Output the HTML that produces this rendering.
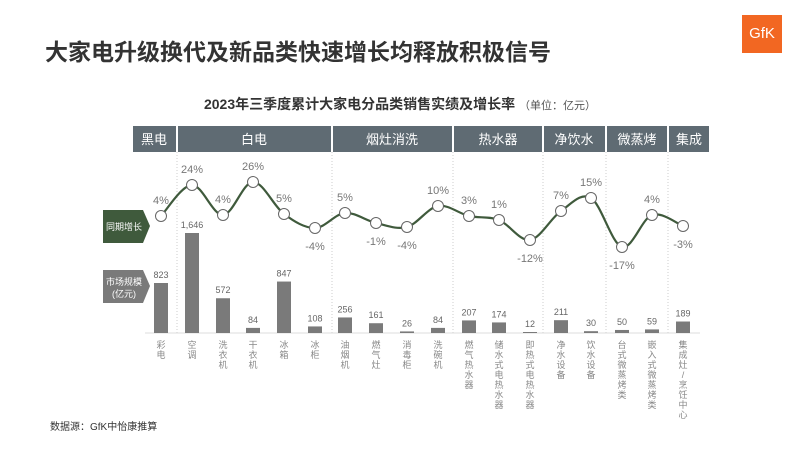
<!DOCTYPE html>
<html><head><meta charset="utf-8"><style>
body{margin:0;background:#fff;}
#w{position:relative;width:800px;height:450px;overflow:hidden;font-family:"Liberation Sans","Noto Sans CJK SC",sans-serif;}
.t{position:absolute;left:45px;top:33px;font-size:23px;font-weight:bold;color:#333;}
.st{position:absolute;left:0;width:800px;top:94px;text-align:center;font-size:14px;font-weight:bold;color:#333;}
.st span{font-size:11px;font-weight:normal;color:#555;}
.logo{position:absolute;left:742px;top:15px;width:40px;height:38px;background:#f26722;color:#fff;font-size:15px;line-height:38px;text-align:center;}
.src{position:absolute;left:50px;top:418px;font-size:10px;color:#333;}
</style></head><body><div id="w">
<div class="t">大家电升级换代及新品类快速增长均释放积极信号</div>
<div class="logo">GfK</div>
<div class="st">2023年三季度累计大家电分品类销售实绩及增长率 <span>（单位：亿元）</span></div>
<svg width="800" height="450" style="position:absolute;left:0;top:0" font-family="Liberation Sans, Noto Sans CJK SC, sans-serif">
<g fill="#5f6b73">
<rect x="133" y="126" width="43" height="26"/><rect x="178" y="126" width="153" height="26"/>
<rect x="333" y="126" width="119" height="26"/><rect x="454" y="126" width="88" height="26"/>
<rect x="544" y="126" width="61" height="26"/><rect x="607" y="126" width="60" height="26"/>
<rect x="669" y="126" width="40" height="26"/></g>
<g fill="#fff" font-size="13" text-anchor="middle">
<text x="154" y="144">黑电</text><text x="254" y="144">白电</text><text x="392" y="144">烟灶消洗</text>
<text x="498" y="144">热水器</text><text x="574" y="144">净饮水</text><text x="637" y="144">微蒸烤</text><text x="689" y="144">集成</text></g>
<g stroke="#ccc" stroke-dasharray="1,2" stroke-width="1">
<line x1="177" y1="152" x2="177" y2="333"/><line x1="332" y1="152" x2="332" y2="333"/>
<line x1="453" y1="152" x2="453" y2="333"/><line x1="543" y1="152" x2="543" y2="333"/>
<line x1="606" y1="152" x2="606" y2="333"/><line x1="668" y1="152" x2="668" y2="333"/></g>
<line x1="145" y1="333" x2="700" y2="333" stroke="#ddd"/>
<polygon points="103,210 143,210 150,226 143,243 103,243" fill="#3f5a3c"/>
<text x="124" y="230" fill="#fff" font-size="9" text-anchor="middle">同期增长</text>
<polygon points="103,270 143,270 150,286 143,303 103,303" fill="#7a7a7a"/>
<text x="124" y="285" fill="#fff" font-size="9" text-anchor="middle">市场规模</text>
<text x="124" y="297" fill="#fff" font-size="9" text-anchor="middle">(亿元)</text>
<g id="bars" fill="#7a7a7a"></g>
<g id="bl" fill="#666" font-size="9" text-anchor="middle"></g>
<path id="ln" fill="none" stroke="#3f5a3c" stroke-width="2.2"/>
<g id="pts"></g>
<g id="pl" fill="#777" font-size="11" text-anchor="middle"></g>
<g id="nm" fill="#888" font-size="9" text-anchor="middle"></g>
</svg>
<div class="src">数据源：GfK中怡康推算</div>
</div>
<script>
var X=[161,192,223,253,284,315,345,376,407,438,469,499,530,561,591,622,652,683];
var Y=[216,185,215,182,214,228,213,223,227,206,216,220,240,211,198,247,215,226];
var P=["4%","24%","4%","26%","5%","-4%","5%","-1%","-4%","10%","3%","1%","-12%","7%","15%","-17%","4%","-3%"];
var V=[823,1646,572,84,847,108,256,161,26,84,207,174,12,211,30,50,59,189];
var N=["彩电","空调","洗衣机","干衣机","冰箱","冰柜","油烟机","燃气灶","消毒柜","洗碗机","燃气热水器","储水式电热水器","即热式电热水器","净水设备","饮水设备","台式微蒸烤类","嵌入式微蒸烤类","集成灶/烹饪中心"];
var ns="http://www.w3.org/2000/svg";
function el(g,t,a,txt){var e=document.createElementNS(ns,t);for(var k in a)e.setAttribute(k,a[k]);if(txt!=null)e.textContent=txt;document.getElementById(g).appendChild(e);}
var d="M"+X[0]+","+Y[0];
for(var i=0;i<X.length-1;i++){
var p0=i>0?i-1:i,p3=i+2<X.length?i+2:i+1;
var c1x=X[i]+(X[i+1]-X[p0])/6,c1y=Y[i]+(Y[i+1]-Y[p0])/6;
var c2x=X[i+1]-(X[p3]-X[i])/6,c2y=Y[i+1]-(Y[p3]-Y[i])/6;
d+=" C"+c1x+","+c1y+" "+c2x+","+c2y+" "+X[i+1]+","+Y[i+1];}
document.getElementById("ln").setAttribute("d",d);
for(var i=0;i<X.length;i++){
el("pts","circle",{cx:X[i],cy:Y[i],r:5.5,fill:"#fff",stroke:"#666","stroke-width":1});
var neg=P[i][0]=="-";
el("pl","text",{x:X[i],y:neg?Y[i]+22:Y[i]-12},P[i]);
var h=V[i]*100/1646;if(h<1)h=1;
el("bars","rect",{x:X[i]-7,y:333-h,width:14,height:h});
el("bl","text",{x:X[i],y:333-h-5},V[i].toLocaleString("en-US"));
for(var j=0;j<N[i].length;j++)el("nm","text",{x:X[i],y:348+j*10},N[i][j]);
}
</script>
</body></html>
